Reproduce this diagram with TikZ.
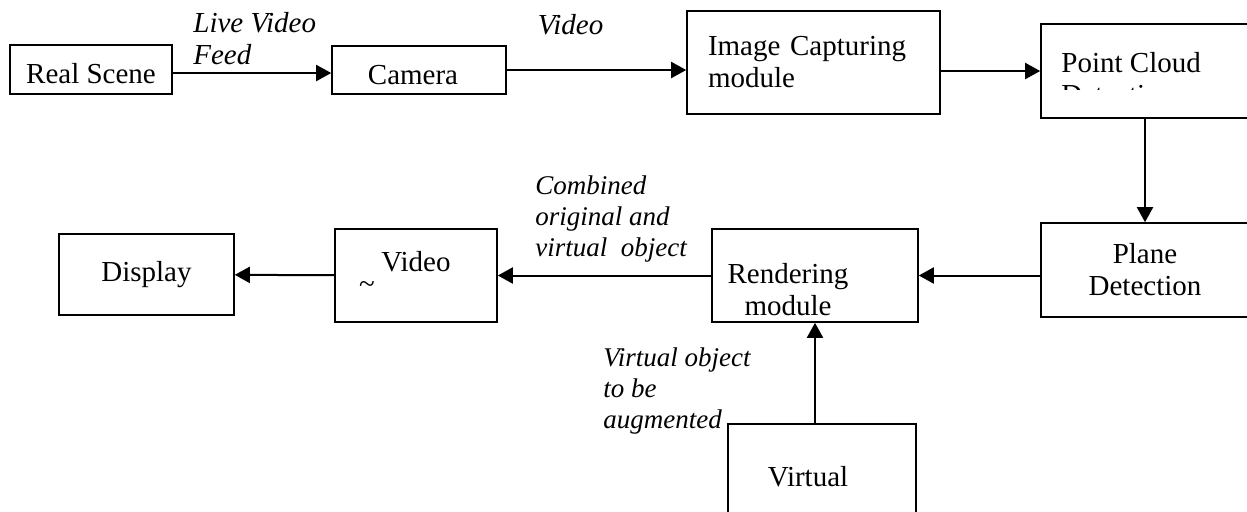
\documentclass[tikz,border=0pt]{standalone}
\usepackage{fontspec}
\setmainfont{Liberation Serif}
\usetikzlibrary{shapes, arrows.meta, positioning}

\begin{document}
\begin{tikzpicture}[x=0.5pt, y=-0.5pt,
    every node/.style={font=\fontsize{14.5}{16}\selectfont},
    box/.style={rectangle, draw, line width=0.8pt, inner sep=0pt},
    lbl/.style={font=\fontsize{14.5}{16}\selectfont\itshape, align=left, inner sep=0pt},
    small/.style={font=\fontsize{13.5}{15.5}\selectfont\itshape},
    flow/.style={->, line width=1pt},
    >={Triangle[length=7.5pt, width=8pt]}]
    \useasboundingbox (0,0) rectangle (1247,511);
    \clip (0,0) rectangle (1247,511);

    % top row
    \node (real) [box, minimum width=81pt, minimum height=24.5pt, text height=14pt] at (91,69.5) {Real Scene};
    \node (cam) [box, minimum width=87pt, minimum height=24pt, text height=15pt] at (419,70) {Camera\hspace*{6pt}};
    \node (img) [box, minimum width=126.5pt, minimum height=51.5pt, text width=105.5pt, align=left] at (813.5,62.5) {Image Capturing\\module};
    \node (pc) [box, minimum width=104pt, minimum height=47pt] at (1145,71) {};
    \begin{scope}
        \clip (1041,24) rectangle (1249,89);
        \node (pctxt) [inner sep=0pt, anchor=north west, align=left] at (1061,52) {Point Cloud\\Detection};
    \end{scope}

    % bottom row
    \node (plane) [box, minimum width=104pt, minimum height=47pt, align=center] at (1145,270) {Plane\\Detection};
    \node (rend) [box, minimum width=103pt, minimum height=46.5pt, align=center] at (815,275.5) {\rule{0pt}{24pt}Rendering\hspace*{27pt}\\module\hspace*{27pt}};
    \node (vid) [box, minimum width=81pt, minimum height=46.5pt, text depth=14pt] at (416,275.5) {Video};
    \node (tld) [inner sep=0pt] at (367,287) {\textasciitilde};
    \node (disp) [box, minimum width=87.5pt, minimum height=40.5pt] at (146.5,274.5) {Display};
    \node (virt) [box, minimum width=94pt, minimum height=53pt] at (822,477) {Virtual\hspace*{14pt}};

    % labels
    \node (lvf) [lbl, anchor=west] at (193,39) {Live Video\\Feed};
    \node (vlab) [lbl] at (570.5,25) {Video};
    \node (comb) [lbl, small, anchor=west] at (535,219) {Combined\\original and\\virtual\ \ object};
    \node (vobj) [lbl, small, anchor=west] at (603,391) {Virtual object\\to be\\augmented};

    % connectors
    \draw [flow] ([yshift=-1.75pt]real.east) -- ([yshift=-1.75pt]real.east -| cam.west);
    \draw [flow] (cam.east) -- (cam.east -| img.west);
    \draw [flow] (img.east |- pc.west) -- (pc.west);
    \draw [flow] (pc) -- (plane);
    \draw [flow] (plane.west |- rend.east) -- (rend.east);
    \draw [flow] (rend) -- (vid);
    \draw [flow] (vid) -- (disp);
    \draw [flow] (virt.north -| rend.south) -- (rend.south);
\end{tikzpicture}
\end{document}
